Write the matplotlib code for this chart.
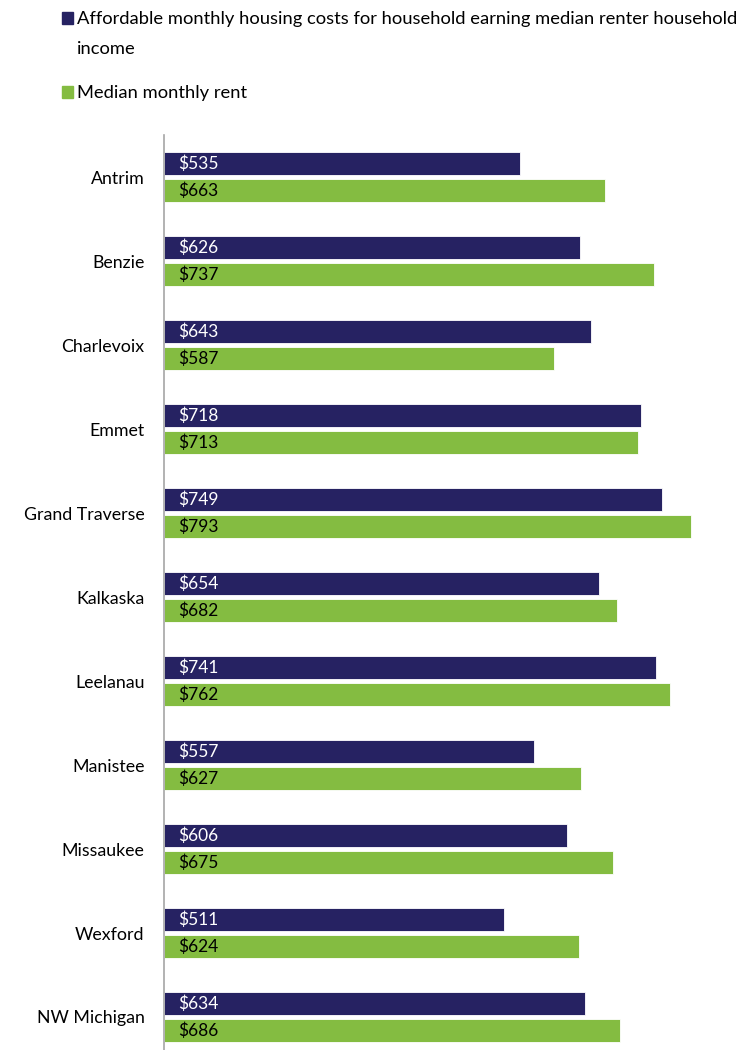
import numpy as np
import matplotlib
matplotlib.use('Agg')
import matplotlib.pyplot as plt
from matplotlib.patches import Rectangle

# ── data ─────────────────────────────────────────────────────────────────────
counties = ['Antrim', 'Benzie', 'Charlevoix', 'Emmet', 'Grand Traverse',
            'Kalkaska', 'Leelanau', 'Manistee', 'Missaukee', 'Wexford',
            'NW Michigan']
affordable = [535, 626, 643, 718, 749, 654, 741, 557, 606, 511, 634]
median_rent = [663, 737, 587, 713, 793, 682, 762, 627, 675, 624, 686]

LABEL_AFF = ['Affordable monthly housing costs for household earning median renter household',
             'income']
LABEL_RENT = 'Median monthly rent'

PURPLE = '#262262'
GREEN = '#84bc41'
FONT = 'Lato'

W, H = 748, 1050
DPI = 100
fig = plt.figure(figsize=(W / DPI, H / DPI), dpi=DPI)

# axes in pixel terms: left 164, right 720, top 135, bottom 1050
ax = fig.add_axes([164 / W, 0, (720 - 164) / W, (1050 - 135) / H])

px_per_val = 0.6646
ax.set_xlim(0, (720 - 164) / px_per_val)
px_per_cat = 84
ax.set_ylim(-0.5 + 915 / px_per_cat, -0.5)

y = np.arange(len(counties))
off = 0.16
bh = 0.275
ax.barh(y - off, affordable, height=bh, color=PURPLE, edgecolor='white', linewidth=0.6)
ax.barh(y + off, median_rent, height=bh, color=GREEN, edgecolor='white', linewidth=0.6)

for yi, a, m in zip(y, affordable, median_rent):
    ax.annotate(f'${a}', xy=(0, yi - off), xytext=(10, 0), textcoords='offset points',
                va='center', ha='left', color='white', fontsize=12.5, family=FONT)
    ax.annotate(f'${m}', xy=(0, yi + off), xytext=(10, 0), textcoords='offset points',
                va='center', ha='left', color='black', fontsize=12.5, family=FONT)

ax.set_yticks(y)
ax.set_yticklabels(counties, fontsize=12.8, family=FONT)
ax.tick_params(axis='y', length=0, pad=14)
ax.set_xticks([])
for s in ['top', 'right', 'bottom']:
    ax.spines[s].set_visible(False)
ax.spines['left'].set_color('#a6a6a6')
ax.spines['left'].set_linewidth(1.2)

# ── legend (drawn manually so the swatch sits on the first line) ────────────
fig.patches.append(Rectangle((62 / W, 1 - 24 / H), 11 / W, 12 / H,
                             transform=fig.transFigure, color=PURPLE))
fig.text(77 / W, 1 - 24 / H, LABEL_AFF[0], fontsize=13.2, family=FONT,
         va='baseline', ha='left')
fig.text(77 / W, 1 - 54 / H, LABEL_AFF[1], fontsize=13.2, family=FONT,
         va='baseline', ha='left')
fig.patches.append(Rectangle((62 / W, 1 - 98 / H), 11 / W, 12 / H,
                             transform=fig.transFigure, color=GREEN))
fig.text(77 / W, 1 - 98 / H, LABEL_RENT, fontsize=13.2, family=FONT,
         va='baseline', ha='left')

fig.savefig('out.png', dpi=DPI)
